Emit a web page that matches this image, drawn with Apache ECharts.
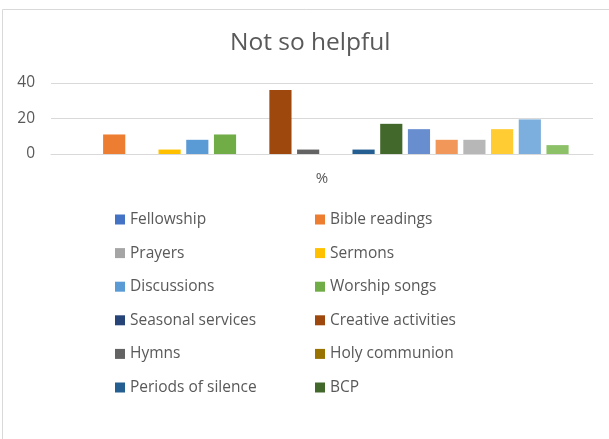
<!DOCTYPE html>
<html>
<head>
<meta charset="utf-8">
<script src="https://cdn.jsdelivr.net/npm/echarts@6/dist/echarts.min.js"></script>
<style>
html,body{margin:0;padding:0;background:#fff;}
#c{width:609px;height:439px;}
</style>
</head>
<body>
<div id="c"></div>
<script>
var categories = ['%'];
var seriesNames = ['Fellowship','Bible readings','Prayers','Sermons','Discussions','Worship songs',
  'Seasonal services','Creative activities','Hymns','Holy communion','Periods of silence','BCP',
  'Series 13','Series 14','Series 15','Series 16','Series 17','Series 18'];
var seriesValues = [0, 11, 0, 2.5, 8, 11, 0, 36, 2.5, 0, 2.5, 17, 14, 8, 8, 14, 19.5, 5];
var seriesColors = ['#4472C4','#ED7D31','#A5A5A5','#FFC000','#5B9BD5','#70AD47',
  '#264478','#9E480E','#636363','#997300','#255E91','#43682B',
  '#698ED0','#F1975A','#B7B7B7','#FFCD33','#7CAFDD','#8CC168'];
var yTicks = [0, 20, 40];
var legendLeft = ['Fellowship','Prayers','Discussions','Seasonal services','Hymns','Periods of silence'];
var legendRight = ['Bible readings','Sermons','Worship songs','Creative activities','Holy communion','BCP'];

var FONT = '"Open Sans", sans-serif';
var chart = echarts.init(document.getElementById('c'), null, {renderer:'canvas'});
var series = seriesNames.map(function(n, i){
  return {
    name: n, type: 'bar',
    data: [seriesValues[i]],
    itemStyle: {color: seriesColors[i]},
    barGap: '25%', barCategoryGap: '9%',
    animation: false
  };
});
var legendCommon = {
  orient: 'vertical', top: 210.5, padding: 0, itemWidth: 10, itemHeight: 10, itemGap: 15.6,
  itemTextGap: 4, icon: 'rect', selectedMode: false,
  textStyle: {fontFamily: FONT, fontSize: 15.5, color: '#595959', lineHeight: 18}
};
chart.setOption({
  backgroundColor: '#fff',
  animation: false,
  title: {
    text: 'Not so helpful', left: 225, top: 26,
    textStyle: {fontFamily: FONT, fontSize: 24.5, fontWeight: 'normal', color: '#595959'}
  },
  graphic: [{
    type: 'rect', silent: true,
    shape: {x: 2.5, y: 9.5, width: 700, height: 600},
    style: {fill: 'none', stroke: '#D9D9D9', lineWidth: 1}
  }],
  legend: [
    Object.assign({}, legendCommon, {left: 115, data: legendLeft}),
    Object.assign({}, legendCommon, {left: 315, data: legendRight})
  ],
  grid: {left: 51, right: 16, top: 83, bottom: 285, containLabel: false},
  xAxis: {
    type: 'category', data: categories,
    axisLine: {lineStyle: {color: '#D9D9D9', width: 1}},
    axisTick: {show: false},
    axisLabel: {fontFamily: FONT, fontSize: 15, color: '#595959', margin: 17}
  },
  yAxis: {
    type: 'value', min: yTicks[0], max: yTicks[yTicks.length-1], interval: yTicks[1]-yTicks[0],
    axisLine: {show: false}, axisTick: {show: false},
    splitLine: {lineStyle: {color: '#D9D9D9', width: 1}},
    axisLabel: {fontFamily: FONT, fontSize: 15.5, color: '#595959', margin: 16}
  },
  series: series
});
</script>
</body>
</html>
